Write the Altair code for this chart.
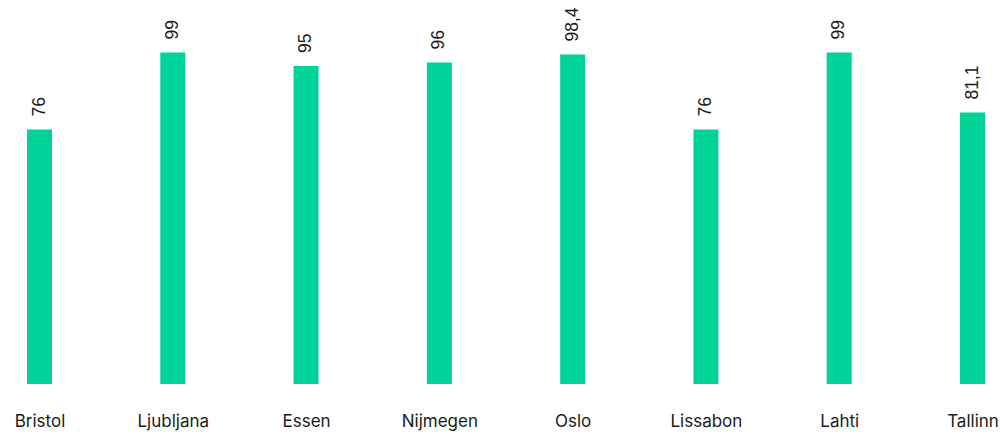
import altair as alt
import pandas as pd

# City scores
cities = ["Bristol", "Ljubljana", "Essen", "Nijmegen", "Oslo", "Lissabon", "Lahti", "Tallinn"]
scores = [76, 99, 95, 96, 98.4, 76, 99, 81.1]

BAR_COLOR = "#00D399"

df = pd.DataFrame({"city": cities, "score": scores})

x_enc = alt.X(
    "city:N",
    sort=cities,
    title=None,
    scale=alt.Scale(type="point", range=[39.5, 972.5], padding=0),
    axis=alt.Axis(
        domain=False,
        ticks=False,
        grid=False,
        labelAngle=0,
        labelFont="Inter",
        labelFontSize=17,
        labelColor="#1a1a1a",
        labelPadding=29,
        labelOverlap=False,
    ),
)
y_enc = alt.Y(
    "score:Q",
    title=None,
    scale=alt.Scale(domain=[0, 114.7], nice=False, zero=True),
    axis=None,
)

bars = alt.Chart(df).mark_bar(size=25, color=BAR_COLOR).encode(x=x_enc, y=y_enc)

labels = (
    alt.Chart(df)
    .transform_calculate(label="replace(toString(datum.score), '.', ',')")
    .mark_text(
        angle=270,
        align="left",
        baseline="middle",
        dx=13,
        font="Liberation Sans",
        fontSize=17.5,
        color="#1a1a1a",
    )
    .encode(x=x_enc, y=y_enc, text="label:N")
)

chart = (
    alt.layer(bars, labels)
    .properties(
        width=1006,
        height=384,
        autosize=alt.AutoSizeParams(type="none"),
        padding={"left": 0, "top": 0, "right": 0, "bottom": 48},
        background="white",
    )
    .configure_view(stroke=None)
)

chart.save("out.html", embed_options={"renderer": "svg", "actions": False})
